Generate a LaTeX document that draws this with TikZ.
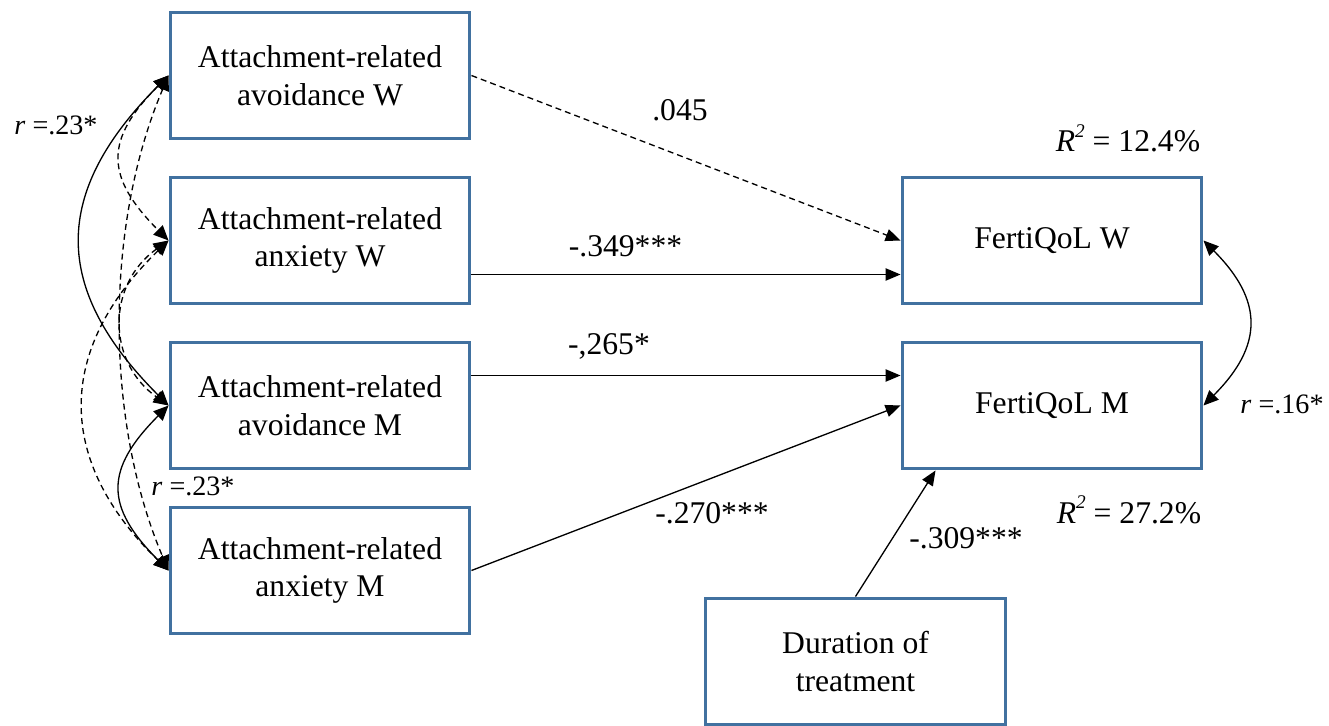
\documentclass[tikz,border=0pt]{standalone}
\usepackage{fontspec}
\setmainfont{Liberation Serif}
\usetikzlibrary{arrows.meta,calc}
\definecolor{boxblue}{RGB}{65,113,160}
\begin{document}
\begin{tikzpicture}[x=0.02cm,y=-0.02cm,
  var/.style={draw=boxblue,line width=1.7pt,minimum width=6cm,minimum height=2.54cm,
    inner sep=0pt,align=center,font=\fontsize{18}{21.5}\selectfont},
  arr/.style={line width=0.75pt,-{Triangle[length=8.5pt,width=7pt]}},
  cov/.style={line width=0.75pt,{Triangle[length=8.5pt,width=7.5pt]}-{Triangle[length=8.5pt,width=7.5pt]}},
  dashpat/.style={dash pattern=on 3.4pt off 2.3pt},
  lab/.style={font=\fontsize{18}{21.5}\selectfont,inner sep=0pt,anchor=base},
  rlab/.style={font=\fontsize{16}{19}\selectfont,inner sep=0pt,anchor=base}]
\useasboundingbox (0,0) rectangle (1329,726);

% predictor boxes
\node[var] (A1) at (320,75.5)  {Attachment-related\\avoidance W};
\node[var] (A2) at (320,240.5) {Attachment-related\\anxiety W};
\node[var] (A3) at (320,405.5) {Attachment-related\\avoidance M};
\node[var] (A4) at (320,570.5) {Attachment-related\\anxiety M};

% outcome boxes and covariate
\node[var] (FW) at (1052,240.5) {FertiQoL W};
\node[var] (FM) at (1052,405.5) {FertiQoL M};
\node[var] (DT) at (855.5,661.5) {Duration of\\treatment};

% regression paths
\draw[arr,dashpat] (A1.east) -- (FW.west);
\draw[arr] ($(A2.east)+(0,34)$) -- ($(FW.west)+(0,34)$);
\draw[arr] ($(A3.east)+(0,-30)$) -- ($(FM.west)+(0,-30)$);
\draw[arr] (A4.east) -- (FM.west);
\draw[arr] (DT.north) -- ($(FM.south west)+(35,0)$);

% correlations among predictors
\draw[cov] (A1.west) .. controls +(-117,117) and +(-117,-117) .. (A3.west);
\draw[cov] (A3.west) .. controls +(-64,64) and +(-64,-64) .. (A4.west);
\draw[cov,dashpat] (A1.west) .. controls +(-64,64) and +(-64,-64) .. (A2.west);
\draw[cov,dashpat] (A1.west) .. controls +(-64,150) and +(-64,-150) .. (A4.west);
\draw[cov,dashpat] (A2.west) .. controls +(-62,44) and +(-62,-44) .. (A3.west);
\draw[cov,dashpat] (A2.west) .. controls +(-113,110) and +(-113,-110) .. (A4.west);

% correlation between outcomes
\draw[cov] (FW.east) .. controls +(60,60) and +(60,-60) .. (FM.east);

% coefficients
\node[lab] (c1) at (680,121) {.045};
\node[lab] (c2) at (625.5,256) {-.349***};
\node[lab] (c3) at (609,355) {-,265*};
\node[lab] (c4) at (712,523) {-.270***};
\node[lab] (c5) at (966,548) {-.309***};
\node[lab] (r2w) at (1128,152) {\textit{R}\raisebox{0.45em}{\fontsize{11}{13}\selectfont\textit{2}} = 12.4\%};
\node[lab] (r2m) at (1129,523) {\textit{R}\raisebox{0.45em}{\fontsize{11}{13}\selectfont\textit{2}} = 27.2\%};
\node[rlab] (rA) at (56,135) {\textit{r} =.23*};
\node[rlab] (rB) at (193,495) {\textit{r} =.23*};
\node[rlab] (rF) at (1282,413) {\textit{r} =.16*};
\end{tikzpicture}
\end{document}
